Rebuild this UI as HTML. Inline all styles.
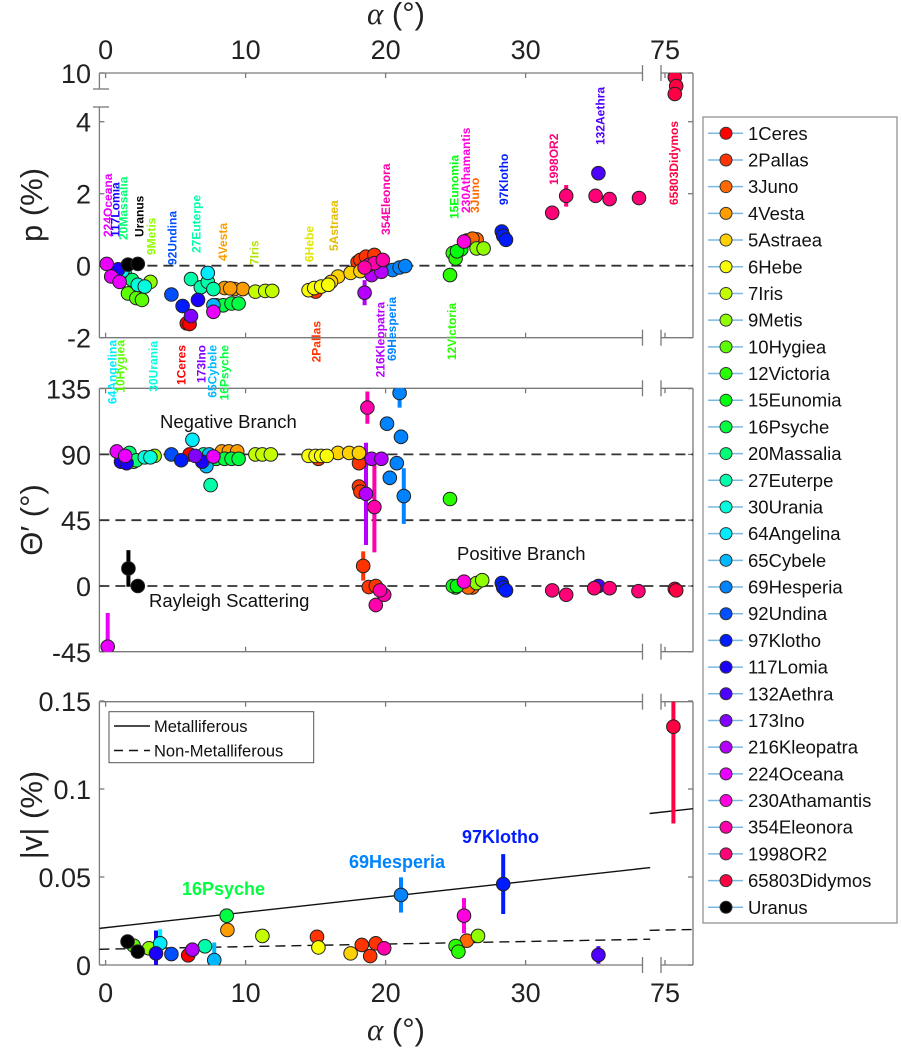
<!DOCTYPE html>
<html><head><meta charset="utf-8"><style>
html,body{margin:0;padding:0;background:#fff;}
svg{display:block;font-family:"Liberation Sans",sans-serif;}
</style></head><body>
<svg id="chart" xmlns="http://www.w3.org/2000/svg" width="901" height="1048" viewBox="0 0 901 1048"></svg>
<script>
// ---------- data ----------
const names = ["1Ceres","2Pallas","3Juno","4Vesta","5Astraea","6Hebe","7Iris","9Metis","10Hygiea","12Victoria","15Eunomia","16Psyche","20Massalia","27Euterpe","30Urania","64Angelina","65Cybele","69Hesperia","92Undina","97Klotho","117Lomia","132Aethra","173Ino","216Kleopatra","224Oceana","230Athamantis","354Eleonora","1998OR2","65803Didymos","Uranus"];

const topIdx   = [0,0, 1,1,1,1,1, 2,2,2, 3,3,3,3, 4,4,4,4, 5,5,5,5, 6,6,6, 7,7,7, 8,8,8, 9,9,9, 10,10, 11,11,11,11, 12,12, 13,13,13,13, 14,14, 15,15, 16, 17,17,17, 18, 19,19,19,19, 20,20, 21, 22, 23,23,23, 24,24,24,24, 25, 26,26,26,26, 27,27,27,27,27, 28,28,28, 29,29];
const topAlpha = [5.8,6.0, 15.0,18.0,18.2,18.6,19.2, 25.8,26.5,26.2, 8.5,9.2,9.8,8.9, 16.6,17.5,18.2,16.1, 14.5,14.9,15.4,15.9, 10.7,11.4,11.9, 3.2,26.5,27.0, 1.6,2.2,2.6, 24.6,24.8,25.0, 25.4,25.1, 7.9,8.4,9.0,9.5, 1.4,1.9, 6.1,6.8,7.3,7.7, 2.3,2.8, 7.3,1.2, 7.7, 20.5,21.0,21.4, 4.7, 5.5,28.3,28.4,28.6, 0.9,6.6, 35.2, 6.1, 18.5,19.0,19.7, 0.08,0.4,1.0,7.7, 25.6, 18.8,19.2,19.8,18.5, 31.9,32.9,35.0,36.0,38.1, 75.7,75.8,75.7, 1.6,2.3];
const topP     = [-1.6,-1.62, -0.72,0.1,0.16,0.25,0.3, 0.7,0.73,0.75, -0.62,-0.65,-0.65,-0.63, -0.3,-0.2,-0.15,-0.45, -0.68,-0.62,-0.58,-0.53, -0.72,-0.7,-0.7, -0.45,0.48,0.48, -0.77,-0.9,-0.95, -0.26,0.35,0.2, 0.45,0.4, -1.1,-1.1,-1.05,-1.05, -0.25,-0.4, -0.37,-0.6,-0.45,-0.65, -0.53,-0.58, -0.2,-0.15, -1.1, -0.12,-0.05,-0.01, -0.8, -1.12,0.95,0.83,0.72, -0.1,-0.95, 2.57, -1.4, -0.75,-0.26,-0.17, 0.05,-0.3,-0.45,-1.28, 0.67, 0.02,0.07,0.16,-0.05, 1.47,1.94,1.94,1.85,1.88, 9.6,8.7,7.9, 0.03,0.05];
const topErr   = [0,0, 0,0,0,0,0, 0,0,0, 0,0,0,0, 0,0,0,0, 0,0,0,0, 0,0,0, 0,0,0, 0,0,0, 0,0,0, 0,0, 0,0,0,0, 0,0, 0,0,0,0, 0,0, 0,0, 0, 0,0,0, 0, 0,0,0,0, 0,0, 0, 0, 0.35,0,0, 0,0,0,0, 0, 0,0,0,0, 0,0.3,0,0,0, 0,0,0, 0,0];

const midIdx   = [0, 1,1,1,1,1,1,1, 2,2, 3,3,3, 4,4,4, 5,5,5,5, 6,6,6, 7,7,7, 8, 9,9, 10,10, 11,11,11,11, 12,12, 13,13, 14,14, 15, 16,16, 17,17,17,17,17,17, 18, 19,19,19,19, 20,20,20, 21, 22, 23,23,23, 24,24,24,24, 25, 26,26,26,26,26, 27,27,27,27,27, 28,28, 29,29];
const midAlpha = [6.0, 15.2,18.1,18.1,18.2,18.4,18.8,19.3, 26.2,25.9, 8.3,8.8,9.4, 16.6,17.4,18.1, 14.5,15.0,15.4,15.8, 10.7,11.2,11.8, 3.5,26.5,26.9, 2.0, 24.6,25.0, 24.8,25.1, 7.9,8.5,9.0,9.5, 1.7,2.2, 7.5,7.0, 2.8,3.2, 6.2, 7.2,7.4, 20.1,21.0,21.1,20.8,20.3,21.3, 4.7, 5.4,28.3,28.4,28.6, 1.1,1.5,6.9, 35.2, 6.4, 18.6,19.0,19.7, 0.15,0.8,1.4,7.7, 25.6, 18.7,19.2,19.3,19.9,19.6, 31.9,32.9,34.9,36.0,38.06, 75.7,75.8, 1.63,2.3];
const midTheta = [90, 87,84,68,64.5,13.7,-0.7,0, -1,-1, 92,92,92, 91,91,91, 89,89,89,89, 90,90,90, 89,2,4, 85, 59.5,-1, 0,0, 87,87,87,87, 91,86, 69,90, 88,88, 100, 82,90, 111,132,102,84,74,61.5, 90, 86,2,-1,-3, 85,84,85, 0, 89, 63,87,87, -41.5,92,89,88.5, 3, 122,54,-13,-6,-3, -3,-6,-1.5,-1.5,-3.5, -2,-3, 12,0];
const midErr   = [0, 0,0,0,0,10,0,0, 0,0, 0,0,0, 0,0,0, 0,0,0,0, 0,0,0, 0,0,0, 0, 0,0, 0,0, 0,0,0,0, 0,0, 0,0, 0,0, 0, 5,0, 0,10,5,0,5,19, 0, 0,0,0,0, 0,0,0, 0, 0, 35,0,0, 23,0,0,0, 0, 11,31,5,0,0, 0,0,0,0,0, 0,0, 12.5,0];

const botIdx   = [0, 1,1,1,1, 2, 3, 4, 5, 6, 7,7, 8, 9,9, 11, 13, 15, 16, 17, 18, 19, 20, 21, 23, 25, 26, 28, 29,29];
const botAlpha = [5.9, 15.1,18.3,19.3,18.9, 25.8, 8.7, 17.5, 15.2, 11.2, 3.1,26.6, 2.0, 25.0,25.2, 8.65, 7.1, 3.9, 7.76, 21.1, 4.7, 28.4, 3.6, 35.2, 6.2, 25.6, 19.9, 75.6, 1.57,2.3];
const botV     = [0.0055, 0.016,0.0114,0.0123,0.0051, 0.0138, 0.0199, 0.0066, 0.010, 0.0165, 0.0095,0.0165, 0.011, 0.0108,0.0076, 0.028, 0.0106, 0.0123, 0.0028, 0.0398, 0.0062, 0.046, 0.0066, 0.0057, 0.0087, 0.028, 0.0095, 0.1354, 0.0133,0.0076];
const botErr   = [0, 0,0,0,0, 0, 0, 0, 0, 0, 0,0, 0, 0,0, 0, 0, 0.008, 0.01, 0.01, 0, 0.017, 0.013, 0.005, 0, 0.01, 0.004, 0.055, 0,0];

const fitNames = ["Metalliferous","Non-Metalliferous"];
const fitIntercept = [0.0212, 0.0090];
const fitSlope = [0.000878, 0.000145];

const topTicks = [10,4,2,0,-2];
const midTicks = [135,90,45,0,-45];
const botTicks = [0.15,0.1,0.05,0];
const botTickLabels = ["0.15","0.1","0.05","0"];
const xTicks = [0,10,20,30,75];

// ---------- helpers ----------
const NS = "http://www.w3.org/2000/svg";
const svg = document.getElementById("chart");
function el(tag, attrs, parent, text){
  const e = document.createElementNS(NS, tag);
  for (const k in attrs) e.setAttribute(k, attrs[k]);
  if (text !== undefined) e.textContent = text;
  (parent || svg).appendChild(e);
  return e;
}
function color(i){ if (i===29) return "#000"; return "hsl(" + (i*12.3) + ",100%,50%)"; }
function labelColor(i){ if (i===29) return "#000"; const h=i*12.3; const l=(h>40&&h<80)?45:50; return "hsl(" + h + ",100%," + l + "%)"; }

const L = 99.4, R = 693, B1 = 642.5, B2 = 661;
function xA(a){ return a < 50 ? 105.6 + 14*a : 665 + 14*(a-75); }
function yTop(p){ return p > 6 ? 73 + (10-p)*10 : 265.7 - 36*p; }
function yMid(t){ return 586 - 1.4622*t; }
function yBot(v){ return 965 - 1760*v; }
const panels = [{t:73,b:337.7,name:"p-panel"},{t:388.3,b:651.7,name:"theta-panel"},{t:701.7,b:965,name:"v-panel"}];

// clip paths
const defs = el("defs",{});
panels.forEach((P,k)=>{
  const cp = el("clipPath",{id:"clip"+k}, defs);
  el("rect",{x:L,y:P.t,width:R-L,height:P.b-P.t}, cp);
});

// ---------- axes ----------
panels.forEach((P,k)=>{
  const g = el("g",{});
  
  
  const st = {stroke:"#7a7a7a","stroke-width":1.3,fill:"none"};
  // top & bottom lines with gap
  [P.t,P.b].forEach(y=>{
    el("line",Object.assign({x1:L,y1:y,x2:B1,y2:y},st),g);
    el("line",Object.assign({x1:B2,y1:y,x2:R,y2:y},st),g);
    el("line",Object.assign({x1:B1,y1:y-8,x2:B1,y2:y+8},st),g);
    el("line",Object.assign({x1:B2,y1:y-8,x2:B2,y2:y+8},st),g);
  });
  el("line",Object.assign({x1:R,y1:P.t,x2:R,y2:P.b},st),g);
  if (k===0){
    el("line",Object.assign({x1:L,y1:P.t,x2:L,y2:89},st),g);
    el("line",Object.assign({x1:L,y1:107,x2:L,y2:P.b},st),g);
    el("line",Object.assign({x1:93,y1:89,x2:109,y2:89},st),g);
    el("line",Object.assign({x1:93,y1:107,x2:109,y2:107},st),g);
  } else {
    el("line",Object.assign({x1:L,y1:P.t,x2:L,y2:P.b},st),g);
  }
  xTicks.forEach(a=>{
    const x = xA(a);
    el("line",Object.assign({x1:x,y1:P.t,x2:x,y2:P.t+5},st),g);
    el("line",Object.assign({x1:x,y1:P.b,x2:x,y2:P.b-5},st),g);
  });
});

function yTickSet(vals, labels, fy, P, nm){
  vals.forEach((v,i)=>{
    const y = fy(v);
    el("line",{x1:L,y1:y,x2:L+5,y2:y,stroke:"#7a7a7a","stroke-width":1.3});
    el("line",{x1:R,y1:y,x2:R-5,y2:y,stroke:"#7a7a7a","stroke-width":1.3});
    const t = el("text",{x:91,y:y+10,"text-anchor":"end","font-size":27,fill:"#222"},null,labels[i]);
    
    
  });
}
yTickSet(topTicks, topTicks.map(String), yTop, panels[0], "p");
yTickSet(midTicks, midTicks.map(String), yMid, panels[1], "theta");
yTickSet(botTicks, botTickLabels, yBot, panels[2], "v");

xTicks.forEach(a=>{
  const t1 = el("text",{x:xA(a),y:59,"text-anchor":"middle","font-size":27,fill:"#222"},null,String(a));
  
  
  const t2 = el("text",{x:xA(a),y:1002,"text-anchor":"middle","font-size":27,fill:"#222"},null,String(a));
  
  
});
</script>
<script>
// axis titles
(function(){
  function xt(y, nm){
    const t = el("text",{x:396,y:y,"text-anchor":"middle","font-size":31,fill:"#222"});
    
    
    el("tspan",{"font-family":"Liberation Serif, serif","font-style":"italic"},t,"α");
    el("tspan",{},t," (°)");
  }
  xt(24,"top-x-axis-title"); xt(1040,"bottom-x-axis-title");
  function yt(cy, txt, nm){
    const t = el("text",{x:0,y:0,"text-anchor":"middle","font-size":31,fill:"#222",transform:"translate(42,"+cy+") rotate(-90)"},null,txt);
    
    
  }
  yt(205,"p (%)","p-axis-title");
  yt(520,"Θ′ (°)","theta-axis-title");
  yt(815,"|v| (%)","v-axis-title");
})();

// reference dashed lines
[[0,yTop],[90,yMid],[45,yMid],[0,yMid]].forEach(r=>{
  const y = r[1](r[0]);
  const ln = el("line",{x1:L,y1:y,x2:R,y2:y,stroke:"#333","stroke-width":1.8,"stroke-dasharray":"10,6"});
  
  
});

// fit lines
(function(){
  const segs = [[-0.44,38.9],[73.9,77.1]];
  fitNames.forEach((n,k)=>{
    segs.forEach(s=>{
      const ln = el("line",{x1:xA(s[0]),y1:yBot(fitIntercept[k]+fitSlope[k]*s[0]),x2:xA(s[1]),y2:yBot(fitIntercept[k]+fitSlope[k]*s[1]),
        stroke:"#111","stroke-width":1.4,"stroke-dasharray":k?"10,6":"none","clip-path":"url(#clip2)"});
      
      
    });
  });
})();

// series
function drawSeries(idx, al, val, err, fy, k, nm){
  const g = el("g",{"clip-path":"url(#clip"+k+")"});
  
  
  idx.forEach((i,j)=>{
    if (err[j] > 0){
      const e = el("line",{x1:xA(al[j]),x2:xA(al[j]),y1:fy(val[j]-err[j]),y2:fy(val[j]+err[j]),stroke:color(i),"stroke-width":4},g);
      
      
    }
  });
  idx.forEach((i,j)=>{
    const c = el("circle",{cx:xA(al[j]),cy:fy(val[j]),r:6.8,fill:color(i),stroke:"#222","stroke-width":1},g);
    
    
  });
}
drawSeries(topIdx, topAlpha, topP, topErr, yTop, 0, "p");
drawSeries(midIdx, midAlpha, midTheta, midErr, yMid, 1, "theta");
drawSeries(botIdx, botAlpha, botV, botErr, yBot, 2, "v");

// rotated labels in top panel
(function(){
  const up = [["224Oceana",24,107.7,237],["117Lomia",20,115,237],["20Massalia",12,123,240],["Uranus",29,138.8,237],["9Metis",7,151,255],["92Undina",18,172,265],["27Euterpe",13,196,253],["4Vesta",3,222.5,261],["7Iris",6,254,265],["6Hebe",5,308.8,262],["5Astraea",4,333.6,251],["354Eleonora",26,385.5,235],["15Eunomia",10,453.9,219],["230Athamantis",25,465.5,213],["3Juno",2,474.6,213],["97Klotho",19,503.6,205],["1998OR2",27,553.4,185],["132Aethra",21,599.8,145],["65803Didymos",28,673.6,205]];
  const dn = [["64Angelina",15,112,340],["10Hygiea",8,120,340],["30Urania",14,153,341],["1Ceres",0,181,345],["173Ino",22,201,345],["65Cybele",16,212,345],["16Psyche",11,224,345],["2Pallas",1,316,321],["216Kleopatra",23,380,302],["69Hesperia",17,391.5,297],["12Victoria",9,451.5,303]];
  up.forEach(u=>{
    const t = el("text",{x:0,y:0,"font-size":12,"font-weight":"bold",fill:labelColor(u[1]),"text-anchor":"start",transform:"translate("+(u[2]+4.5)+","+u[3]+") rotate(-90)"},null,u[0]);
    
    
  });
  dn.forEach(u=>{
    const t = el("text",{x:0,y:0,"font-size":12,"font-weight":"bold",fill:labelColor(u[1]),"text-anchor":"end",transform:"translate("+(u[2]+4.5)+","+u[3]+") rotate(-90)"},null,u[0]);
    
    
  });
})();

// text annotations
(function(){
  const a = [["Negative Branch",160,428],["Positive Branch",457,560],["Rayleigh Scattering",149,607]];
  a.forEach(s=>{
    const t = el("text",{x:s[1],y:s[2],"font-size":18.5,fill:"#111"},null,s[0]);
    
    
  });
  const b = [["16Psyche",11,182,895],["69Hesperia",17,349,868],["97Klotho",19,462,843]];
  b.forEach(s=>{
    const t = el("text",{x:s[2],y:s[3],"font-size":18,"font-weight":"bold",fill:color(s[1])},null,s[0]);
    
    
  });
})();

// fit legend
(function(){
  const g = el("g",{});
  
  
  el("rect",{x:109,y:711.7,width:204.7,height:51,fill:"#fff",stroke:"#555","stroke-width":1},g);
  fitNames.forEach((n,k)=>{
    const y = 726 + k*24.5;
    el("line",{x1:114,y1:y,x2:150,y2:y,stroke:"#111","stroke-width":1.4,"stroke-dasharray":k?"9,6":"none"},g);
    const t = el("text",{x:154,y:y+6,"font-size":16.5,fill:"#111"},g,n);
    
    
  });
})();

// series legend
(function(){
  const g = el("g",{});
  
  
  el("rect",{x:703,y:117,width:194,height:806,fill:"#fff",stroke:"#888","stroke-width":1.2},g);
  names.forEach((n,i)=>{
    const y = 133.3 + i*26.69;
    const e = el("g",{},g);
    
    
    el("line",{x1:708,y1:y,x2:743,y2:y,stroke:"#7ab8e0","stroke-width":1.5},e);
    el("circle",{cx:726,cy:y,r:6,fill:color(i),stroke:"#333","stroke-width":1},e);
    el("text",{x:748,y:y+6.5,"font-size":18.5,fill:"#111"},e,n);
  });
})();
</script>
</body></html>
